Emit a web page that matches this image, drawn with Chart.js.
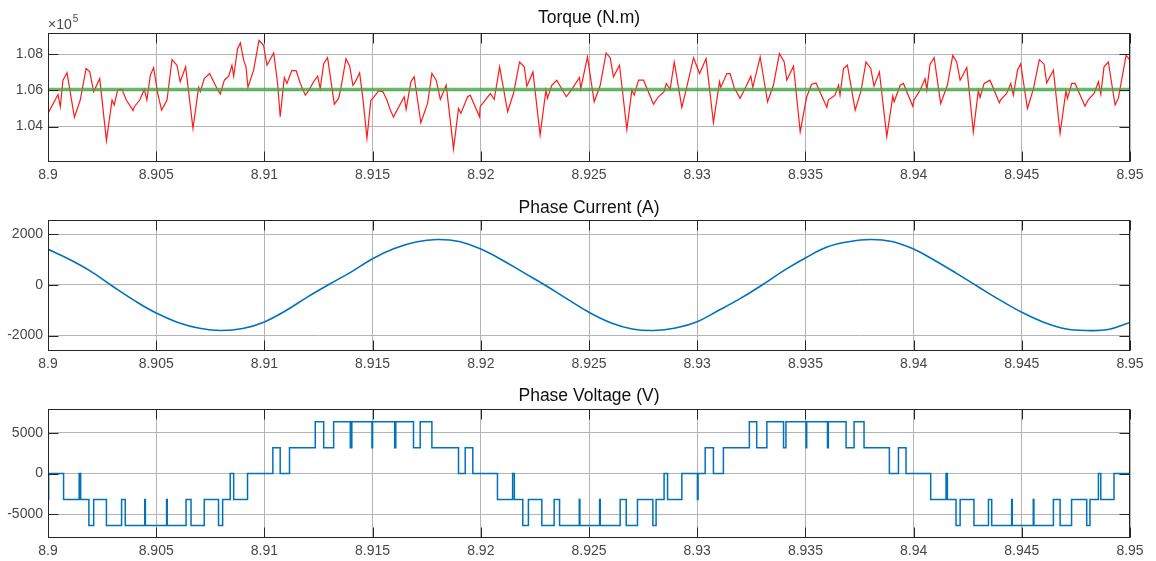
<!DOCTYPE html>
<html>
<head>
<meta charset="utf-8">
<title>Motor signals</title>
<script src="https://cdn.jsdelivr.net/npm/chart.js@4.4.1/dist/chart.umd.min.js"></script>
<style>
  html, body { margin: 0; padding: 0; background: #ffffff; }
  body { width: 1156px; height: 561px; position: relative; overflow: hidden; }
  canvas { position: absolute; left: 0; }
</style>
</head>
<body>
<canvas id="torqueChart" width="1156" height="190" style="top:0px"></canvas>
<canvas id="currentChart" width="1156" height="190" style="top:190px"></canvas>
<canvas id="voltageChart" width="1156" height="186" style="top:375px"></canvas>
<script>
// ---- shared time axis (s) ----
const timeTicks = [8.9, 8.905, 8.91, 8.915, 8.92, 8.925, 8.93, 8.935, 8.94, 8.945, 8.95];

// ---- electromagnetic torque, in units of 1e5 N.m ----
const torqueTime = [
  8.90000, 8.90046, 8.90057, 8.90069, 8.90088, 8.90122, 8.90149, 8.90176, 8.90193, 8.90211,
  8.90239, 8.90270, 8.90296, 8.90306, 8.90322, 8.90342, 8.90362, 8.90393, 8.90399, 8.90424,
  8.90445, 8.90457, 8.90473, 8.90488, 8.90507, 8.90525, 8.90550, 8.90573, 8.90596, 8.90611,
  8.90636, 8.90670, 8.90696, 8.90704, 8.90722, 8.90747, 8.90781, 8.90796, 8.90815, 8.90835,
  8.90850, 8.90858, 8.90876, 8.90889, 8.90904, 8.90915, 8.90924, 8.90950, 8.90975, 8.90996,
  8.91012, 8.91043, 8.91061, 8.91073, 8.91092, 8.91104, 8.91127, 8.91147, 8.91166, 8.91189,
  8.91204, 8.91227, 8.91246, 8.91258, 8.91274, 8.91292, 8.91323, 8.91343, 8.91354, 8.91377,
  8.91394, 8.91409, 8.91420, 8.91440, 8.91455, 8.91474, 8.91492, 8.91501, 8.91528, 8.91548,
  8.91566, 8.91582, 8.91597, 8.91605, 8.91646, 8.91655, 8.91677, 8.91692, 8.91723, 8.91754,
  8.91774, 8.91794, 8.91813, 8.91840, 8.91874, 8.91897, 8.91908, 8.91939, 8.91951, 8.91994,
  8.91997, 8.92044, 8.92062, 8.92087, 8.92124, 8.92151, 8.92179, 8.92201, 8.92213, 8.92241,
  8.92274, 8.92301, 8.92308, 8.92328, 8.92351, 8.92395, 8.92416, 8.92456, 8.92462, 8.92493,
  8.92524, 8.92552, 8.92579, 8.92598, 8.92613, 8.92641, 8.92675, 8.92698, 8.92709, 8.92729,
  8.92752, 8.92798, 8.92821, 8.92847, 8.92857, 8.92875, 8.92894, 8.92929, 8.92952, 8.92983,
  8.93011, 8.93041, 8.93075, 8.93103, 8.93109, 8.93137, 8.93152, 8.93171, 8.93198, 8.93221,
  8.93248, 8.93257, 8.93291, 8.93325, 8.93352, 8.93380, 8.93402, 8.93414, 8.93445, 8.93476,
  8.93506, 8.93529, 8.93549, 8.93599, 8.93606, 8.93637, 8.93653, 8.93660, 8.93676, 8.93694,
  8.93730, 8.93757, 8.93780, 8.93802, 8.93817, 8.93842, 8.93876, 8.93904, 8.93910, 8.93938,
  8.93953, 8.93996, 8.94002, 8.94030, 8.94053, 8.94061, 8.94076, 8.94095, 8.94125, 8.94156,
  8.94181, 8.94199, 8.94215, 8.94246, 8.94276, 8.94299, 8.94307, 8.94326, 8.94353, 8.94396,
  8.94403, 8.94430, 8.94449, 8.94461, 8.94480, 8.94495, 8.94526, 8.94553, 8.94581, 8.94603,
  8.94615, 8.94646, 8.94677, 8.94704, 8.94711, 8.94731, 8.94746, 8.94792, 8.94808, 8.94834,
  8.94854, 8.94865, 8.94880, 8.94900, 8.94931, 8.94946, 8.94982, 8.95000
];
const torqueE5 = [
  1.0473, 1.0578, 1.0510, 1.0657, 1.0698, 1.0451, 1.0547, 1.0722, 1.0703, 1.0593,
  1.0666, 1.0322, 1.0547, 1.0519, 1.0602, 1.0606, 1.0547, 1.0488, 1.0510, 1.0547,
  1.0606, 1.0547, 1.0685, 1.0727, 1.0583, 1.0491, 1.0547, 1.0771, 1.0740, 1.0648,
  1.0731, 1.0390, 1.0617, 1.0593, 1.0666, 1.0694, 1.0611, 1.0580, 1.0657, 1.0679,
  1.0740, 1.0679, 1.0832, 1.0864, 1.0768, 1.0731, 1.0617, 1.0712, 1.0878, 1.0851,
  1.0740, 1.0808, 1.0639, 1.0454, 1.0672, 1.0639, 1.0712, 1.0709, 1.0639, 1.0574,
  1.0598, 1.0648, 1.0679, 1.0611, 1.0749, 1.0782, 1.0524, 1.0556, 1.0617, 1.0777,
  1.0735, 1.0629, 1.0648, 1.0698, 1.0556, 1.0335, 1.0547, 1.0556, 1.0598, 1.0593,
  1.0547, 1.0491, 1.0451, 1.0473, 1.0565, 1.0495, 1.0648, 1.0676, 1.0421, 1.0528,
  1.0694, 1.0657, 1.0550, 1.0629, 1.0276, 1.0500, 1.0473, 1.0565, 1.0574, 1.0454,
  1.0510, 1.0583, 1.0550, 1.0731, 1.0482, 1.0583, 1.0758, 1.0731, 1.0624, 1.0703,
  1.0353, 1.0602, 1.0556, 1.0629, 1.0657, 1.0565, 1.0598, 1.0672, 1.0611, 1.0786,
  1.0537, 1.0629, 1.0808, 1.0782, 1.0676, 1.0740, 1.0384, 1.0602, 1.0574, 1.0657,
  1.0657, 1.0524, 1.0565, 1.0593, 1.0639, 1.0606, 1.0758, 1.0506, 1.0620, 1.0782,
  1.0694, 1.0777, 1.0421, 1.0648, 1.0617, 1.0694, 1.0694, 1.0617, 1.0556, 1.0611,
  1.0679, 1.0617, 1.0786, 1.0537, 1.0629, 1.0805, 1.0758, 1.0657, 1.0735, 1.0371,
  1.0565, 1.0635, 1.0642, 1.0506, 1.0547, 1.0574, 1.0629, 1.0574, 1.0722, 1.0740,
  1.0491, 1.0598, 1.0758, 1.0722, 1.0624, 1.0703, 1.0344, 1.0569, 1.0537, 1.0629,
  1.0639, 1.0513, 1.0547, 1.0602, 1.0666, 1.0602, 1.0746, 1.0782, 1.0528, 1.0629,
  1.0795, 1.0758, 1.0657, 1.0727, 1.0371, 1.0598, 1.0561, 1.0639, 1.0657, 1.0532,
  1.0550, 1.0583, 1.0639, 1.0574, 1.0712, 1.0749, 1.0500, 1.0606, 1.0771, 1.0746,
  1.0642, 1.0712, 1.0362, 1.0598, 1.0556, 1.0639, 1.0639, 1.0513, 1.0550, 1.0583,
  1.0648, 1.0580, 1.0731, 1.0758, 1.0519, 1.0556, 1.0795, 1.0768
];
const torqueRefE5 = 1.0606;
const torqueTicks = [1.04, 1.06, 1.08];

// ---- phase current (A) ----
const currentTime = [
  8.900, 8.901, 8.902, 8.903, 8.904, 8.905, 8.906, 8.907, 8.908, 8.909,
  8.910, 8.911, 8.912, 8.913, 8.914, 8.915, 8.916, 8.917, 8.918, 8.919,
  8.920, 8.921, 8.922, 8.923, 8.924, 8.925, 8.926, 8.927, 8.928, 8.929,
  8.930, 8.931, 8.932, 8.933, 8.934, 8.935, 8.936, 8.937, 8.938, 8.939,
  8.940, 8.941, 8.942, 8.943, 8.944, 8.945, 8.946, 8.947, 8.948, 8.949,
  8.950
];
const currentA = [
  1410, 1010, 530, -60, -620, -1110, -1480, -1710, -1800, -1720,
  -1460, -1010, -470, 30, 510, 1040, 1440, 1700, 1800, 1720,
  1420, 980, 480, -20, -560, -1080, -1490, -1740, -1800, -1700,
  -1450, -1000, -530, 0, 570, 1070, 1500, 1710, 1800, 1720,
  1420, 960, 450, -80, -600, -1080, -1470, -1730, -1800, -1760,
  -1480
];
const currentTicks = [-2000, 0, 2000];

// ---- phase voltage (V): switching instants and the level held from each instant ----
const voltageTime = [
  8.90000, 8.90003, 8.90072, 8.90144, 8.90151, 8.90189, 8.90211, 8.90270, 8.90340, 8.90357,
  8.90447, 8.90450, 8.90548, 8.90551, 8.90638, 8.90661, 8.90722, 8.90788, 8.90807, 8.90842,
  8.90858, 8.90922, 8.91039, 8.91073, 8.91116, 8.91235, 8.91274, 8.91320, 8.91397, 8.91404,
  8.91497, 8.91500, 8.91602, 8.91607, 8.91689, 8.91720, 8.91774, 8.91897, 8.91928, 8.91963,
  8.92077, 8.92147, 8.92155, 8.92194, 8.92220, 8.92282, 8.92339, 8.92364, 8.92455, 8.92458,
  8.92549, 8.92552, 8.92644, 8.92672, 8.92724, 8.92795, 8.92810, 8.92847, 8.92863, 8.92929,
  8.93001, 8.93004, 8.93037, 8.93075, 8.93121, 8.93241, 8.93275, 8.93322, 8.93399, 8.93410,
  8.93503, 8.93506, 8.93602, 8.93606, 8.93688, 8.93725, 8.93771, 8.93888, 8.93930, 8.93965,
  8.94079, 8.94150, 8.94156, 8.94196, 8.94215, 8.94279, 8.94346, 8.94361, 8.94453, 8.94456,
  8.94553, 8.94556, 8.94646, 8.94677, 8.94730, 8.94800, 8.94815, 8.94854, 8.94865, 8.94926,
  8.95000
];
const voltageV = [
  -3175, 0, -3175, 0, -3175, -6350, -3175, -6350, -3175, -6350,
  -3175, -6350, -3175, -6350, -3175, -6350, -3175, -6350, -3175, 0,
  -3175, 0, 3175, 0, 3175, 6350, 3175, 6350, 3175, 6350,
  3175, 6350, 3175, 6350, 3175, 6350, 3175, 0, 3175, 0,
  -3175, 0, -3175, -6350, -3175, -6350, -3175, -6350, -3175, -6350,
  -3175, -6350, -3175, -6350, -3175, -6350, -3175, 0, -3175, 0,
  -3175, 0, 3175, 0, 3175, 6350, 3175, 6350, 3175, 6350,
  3175, 6350, 3175, 6350, 3175, 6350, 3175, 0, 3175, 0,
  -3175, 0, -3175, -6350, -3175, -6350, -3175, -6350, -3175, -6350,
  -3175, -6350, -3175, -6350, -3175, -6350, -3175, 0, -3175, 0,
  0
];
const voltageTicks = [-5000, 0, 5000];

// ---- styling ----
const FONT = "'Liberation Sans', Arial, Helvetica, sans-serif";
const TICK_COLOR = '#474747';
const GRID_COLOR = '#b4b4b4';
const BOX_COLOR = '#262626';
const PLOT_LEFT = 48;
const PLOT_RIGHT_GAP = 26;

Chart.defaults.font.family = FONT;

const pairs = (xs, ys) => xs.map((x, i) => ({ x: x, y: ys[i] }));

// Axes box with MATLAB-style inward tick marks on all four sides
const axesBox = {
  id: 'axesBox',
  afterDatasetsDraw(chart) {
    const { ctx, chartArea: a, scales } = chart;
    const L = Math.round(a.left) + 0.5, T = Math.round(a.top) + 0.5;
    const R = Math.round(a.right) - 0.5, B = Math.round(a.bottom) - 0.5;
    const len = 10;
    ctx.save();
    ctx.strokeStyle = BOX_COLOR;
    ctx.lineWidth = 1;
    ctx.beginPath();
    scales.x.ticks.forEach(t => {
      const px = Math.round(scales.x.getPixelForValue(t.value)) + 0.5;
      ctx.moveTo(px, B); ctx.lineTo(px, B - len);
      ctx.moveTo(px, T); ctx.lineTo(px, T + len);
    });
    scales.y.ticks.forEach(t => {
      const py = Math.round(scales.y.getPixelForValue(t.value)) + 0.5;
      ctx.moveTo(L, py); ctx.lineTo(L + len, py);
      ctx.moveTo(R, py); ctx.lineTo(R - len, py);
    });
    ctx.stroke();
    ctx.strokeRect(L, T, R - L, B - T);
    ctx.restore();
  }
};

// Axes title, centred over the plot area
const axesTitle = {
  id: 'axesTitle',
  afterDraw(chart, args, o) {
    const { ctx, chartArea: a } = chart;
    ctx.save();
    ctx.fillStyle = '#111111';
    ctx.font = '17.5px ' + FONT;
    ctx.textAlign = 'center';
    ctx.textBaseline = 'middle';
    ctx.fillText(o.text, (a.left + a.right) / 2, o.y);
    ctx.restore();
  }
};

// Exponent label above the torque axis
const exponentLabel = {
  id: 'exponentLabel',
  afterDraw(chart) {
    const { ctx } = chart;
    ctx.save();
    ctx.fillStyle = TICK_COLOR;
    ctx.textBaseline = 'middle';
    ctx.textAlign = 'left';
    ctx.font = '14px ' + FONT;
    ctx.fillText('\u00d710', 48, 25);
    const w = ctx.measureText('\u00d710').width;
    ctx.font = '10px ' + FONT;
    ctx.fillText('5', 48 + w + 1, 19);
    ctx.restore();
  }
};

function makeChart(canvasId, opts) {
  return new Chart(document.getElementById(canvasId), {
    type: 'line',
    data: { datasets: opts.datasets },
    plugins: [axesBox, axesTitle].concat(opts.plugins || []),
    options: {
      responsive: false,
      animation: false,
      events: [],
      layout: { padding: { left: 0, right: PLOT_RIGHT_GAP, top: opts.plotTop, bottom: 0 } },
      elements: { point: { radius: 0 } },
      plugins: {
        legend: { display: false },
        tooltip: { enabled: false },
        title: { display: false },
        axesTitle: { text: opts.title, y: opts.titleY }
      },
      scales: {
        x: {
          type: 'linear',
          min: 8.9,
          max: 8.95,
          afterBuildTicks: s => { s.ticks = timeTicks.map(v => ({ value: v })); },
          afterFit: s => { s.height = opts.xAxisHeight; s.paddingLeft = 0; s.paddingRight = 0; },
          ticks: {
            color: TICK_COLOR,
            font: { size: 14 },
            padding: 5,
            maxRotation: 0,
            autoSkip: false,
            callback: v => String(parseFloat(Number(v).toFixed(3)))
          },
          grid: { color: GRID_COLOR, lineWidth: 1, drawTicks: false },
          border: { display: false }
        },
        y: {
          type: 'linear',
          min: opts.yMin,
          max: opts.yMax,
          afterBuildTicks: s => { s.ticks = opts.yTicks.map(v => ({ value: v })); },
          afterFit: s => { s.width = PLOT_LEFT; s.paddingTop = 0; s.paddingBottom = 0; },
          ticks: {
            color: TICK_COLOR,
            font: { size: 14 },
            padding: 5,
            callback: opts.yFormat
          },
          grid: { color: GRID_COLOR, lineWidth: 1, drawTicks: false },
          border: { display: false }
        }
      }
    }
  });
}

makeChart('torqueChart', {
  title: 'Torque (N.m)',
  titleY: 18,
  plotTop: 33,
  xAxisHeight: 28,
  yMin: 1.0203,
  yMax: 1.0919,
  yTicks: torqueTicks,
  yFormat: v => Number(v).toFixed(2),
  plugins: [exponentLabel],
  datasets: [
    {
      label: 'Reference',
      data: [{ x: 8.9, y: torqueRefE5 }, { x: 8.95, y: torqueRefE5 }],
      borderColor: 'rgba(70, 165, 70, 0.8)',
      borderWidth: 3.5
    },
    {
      label: 'Torque',
      data: pairs(torqueTime, torqueE5),
      borderColor: '#ff1a1a',
      borderWidth: 1.2,
      tension: 0
    }
  ]
});

makeChart('currentChart', {
  title: 'Phase Current (A)',
  titleY: 18,
  plotTop: 30,
  xAxisHeight: 29,
  yMin: -2610,
  yMax: 2570,
  yTicks: currentTicks,
  yFormat: v => String(v),
  datasets: [
    {
      label: 'Phase current',
      data: pairs(currentTime, currentA),
      borderColor: '#0072BD',
      borderWidth: 1.6,
      tension: 0.4
    }
  ]
});

makeChart('voltageChart', {
  title: 'Phase Voltage (V)',
  titleY: 21,
  plotTop: 34,
  xAxisHeight: 23,
  yMin: -7880,
  yMax: 7900,
  yTicks: voltageTicks,
  yFormat: v => String(v),
  datasets: [
    {
      label: 'Phase voltage',
      data: pairs(voltageTime, voltageV),
      borderColor: '#0072BD',
      borderWidth: 1.5,
      stepped: 'before'
    }
  ]
});
</script>
</body>
</html>
